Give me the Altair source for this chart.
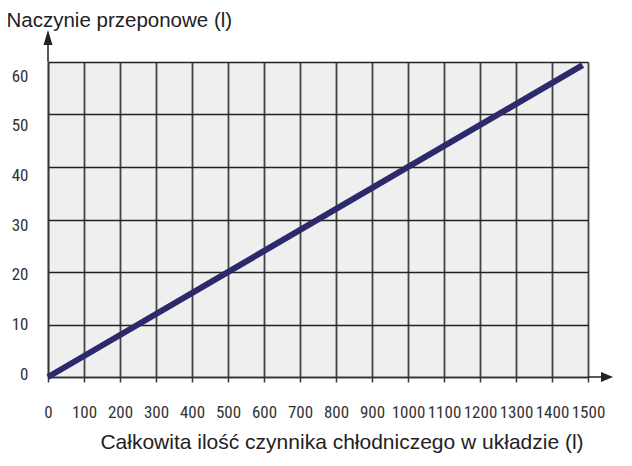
import altair as alt
import pandas as pd

# ---- data ----
x_ticks = [0, 100, 200, 300, 400, 500, 600, 700, 800, 900, 1000, 1100, 1200, 1300, 1400, 1500]
y_ticks = [0, 10, 20, 30, 40, 50, 60]
line_x = [0, 1485]
line_y = [0, 59.4]

x_title = "Całkowita ilość czynnika chłodniczego w układzie (l)"
y_title = "Naczynie przeponowe (l)"

W, H = 540, 315
LABEL_FONT = "Liberation Sans Narrow, Roboto Condensed, DejaVu Sans Condensed, sans-serif"
TITLE_FONT = "Liberation Sans, Arial, sans-serif"
INK = "#222222"

line_df = pd.DataFrame({"x": line_x, "y": line_y})
tick_df = pd.DataFrame({"v": y_ticks})
deco = pd.DataFrame({"k": [0]})

xscale = alt.Scale(domain=[0, 1500], nice=False, zero=False)
yscale = alt.Scale(domain=[0, 60], nice=False)

line = alt.Chart(line_df).mark_line(color="#2c2a6c", strokeWidth=6, strokeCap="butt").encode(
    x=alt.X("x:Q", scale=xscale, axis=alt.Axis(
        values=x_ticks, format="d", grid=True, gridColor="#444444", gridWidth=1.8,
        domain=True, domainColor="#333333", domainWidth=1.5,
        ticks=True, tickSize=5, tickColor="#333333", tickWidth=1.5,
        labelFont=LABEL_FONT, labelFontSize=17, labelColor="#333333",
        labelPadding=22, labelOverlap=False, labelFlush=False,
        title=x_title, titleFont=TITLE_FONT, titleFontSize=21, titleFontWeight="normal",
        titleColor=INK, titleX=293.5, titleY=71, titleAlign="center", titleBaseline="alphabetic")),
    y=alt.Y("y:Q", scale=yscale, axis=alt.Axis(
        orient="left", values=y_ticks, grid=True, gridColor=INK, gridWidth=1.5,
        domain=True, domainColor="#333333", domainWidth=1.5,
        ticks=False, labels=False,
        title=y_title, titleFont=TITLE_FONT, titleFontSize=20.5, titleFontWeight="normal",
        titleColor=INK, titleAngle=0, titleX=-42, titleY=-35.5, titleAlign="left",
        titleBaseline="alphabetic")),
)

ylab = alt.Chart(tick_df).mark_point(opacity=0).encode(
    y=alt.Y("v:Q", scale=alt.Scale(domain=[0, 60], range=[312, 14], nice=False), axis=alt.Axis(
        orient="left", values=y_ticks, format="d", grid=False, domain=False, ticks=False, tickSize=0,
        labelPadding=20, labelFont=LABEL_FONT, labelFontSize=17, labelColor="#333333",
        labelBaseline="middle", labelOverlap=False, labelFlush=False, title="")),
)

xline = alt.Chart(deco).mark_rule(color=INK, strokeWidth=1.5).encode(
    x=alt.value(W), x2=alt.value(W + 15), y=alt.value(H))
yline = alt.Chart(deco).mark_rule(color=INK, strokeWidth=1.5).encode(
    x=alt.value(0), y=alt.value(-25), y2=alt.value(0))
xhead = alt.Chart(deco).mark_point(shape="M1,0L-1,-0.85L-1,0.85Z", filled=True, size=144,
                                   color=INK, opacity=1).encode(
    x=alt.value(W + 19), y=alt.value(H))
yhead = alt.Chart(deco).mark_point(shape="M0,-1L0.6,1L-0.6,1Z", filled=True, size=225,
                                   color=INK, opacity=1).encode(
    x=alt.value(0), y=alt.value(-24.5))

chart = alt.layer(line, ylab, xline, yline, xhead, yhead).resolve_scale(
    y="independent"
).properties(
    width=W, height=H,
    autosize=alt.AutoSizeParams(type="none"),
    padding={"left": 40, "top": 54, "right": 36, "bottom": 81},
    background="white",
).configure_view(fill="#efefef", stroke="transparent")

chart.save("out.html", embed_options={"renderer": "svg", "actions": False})
